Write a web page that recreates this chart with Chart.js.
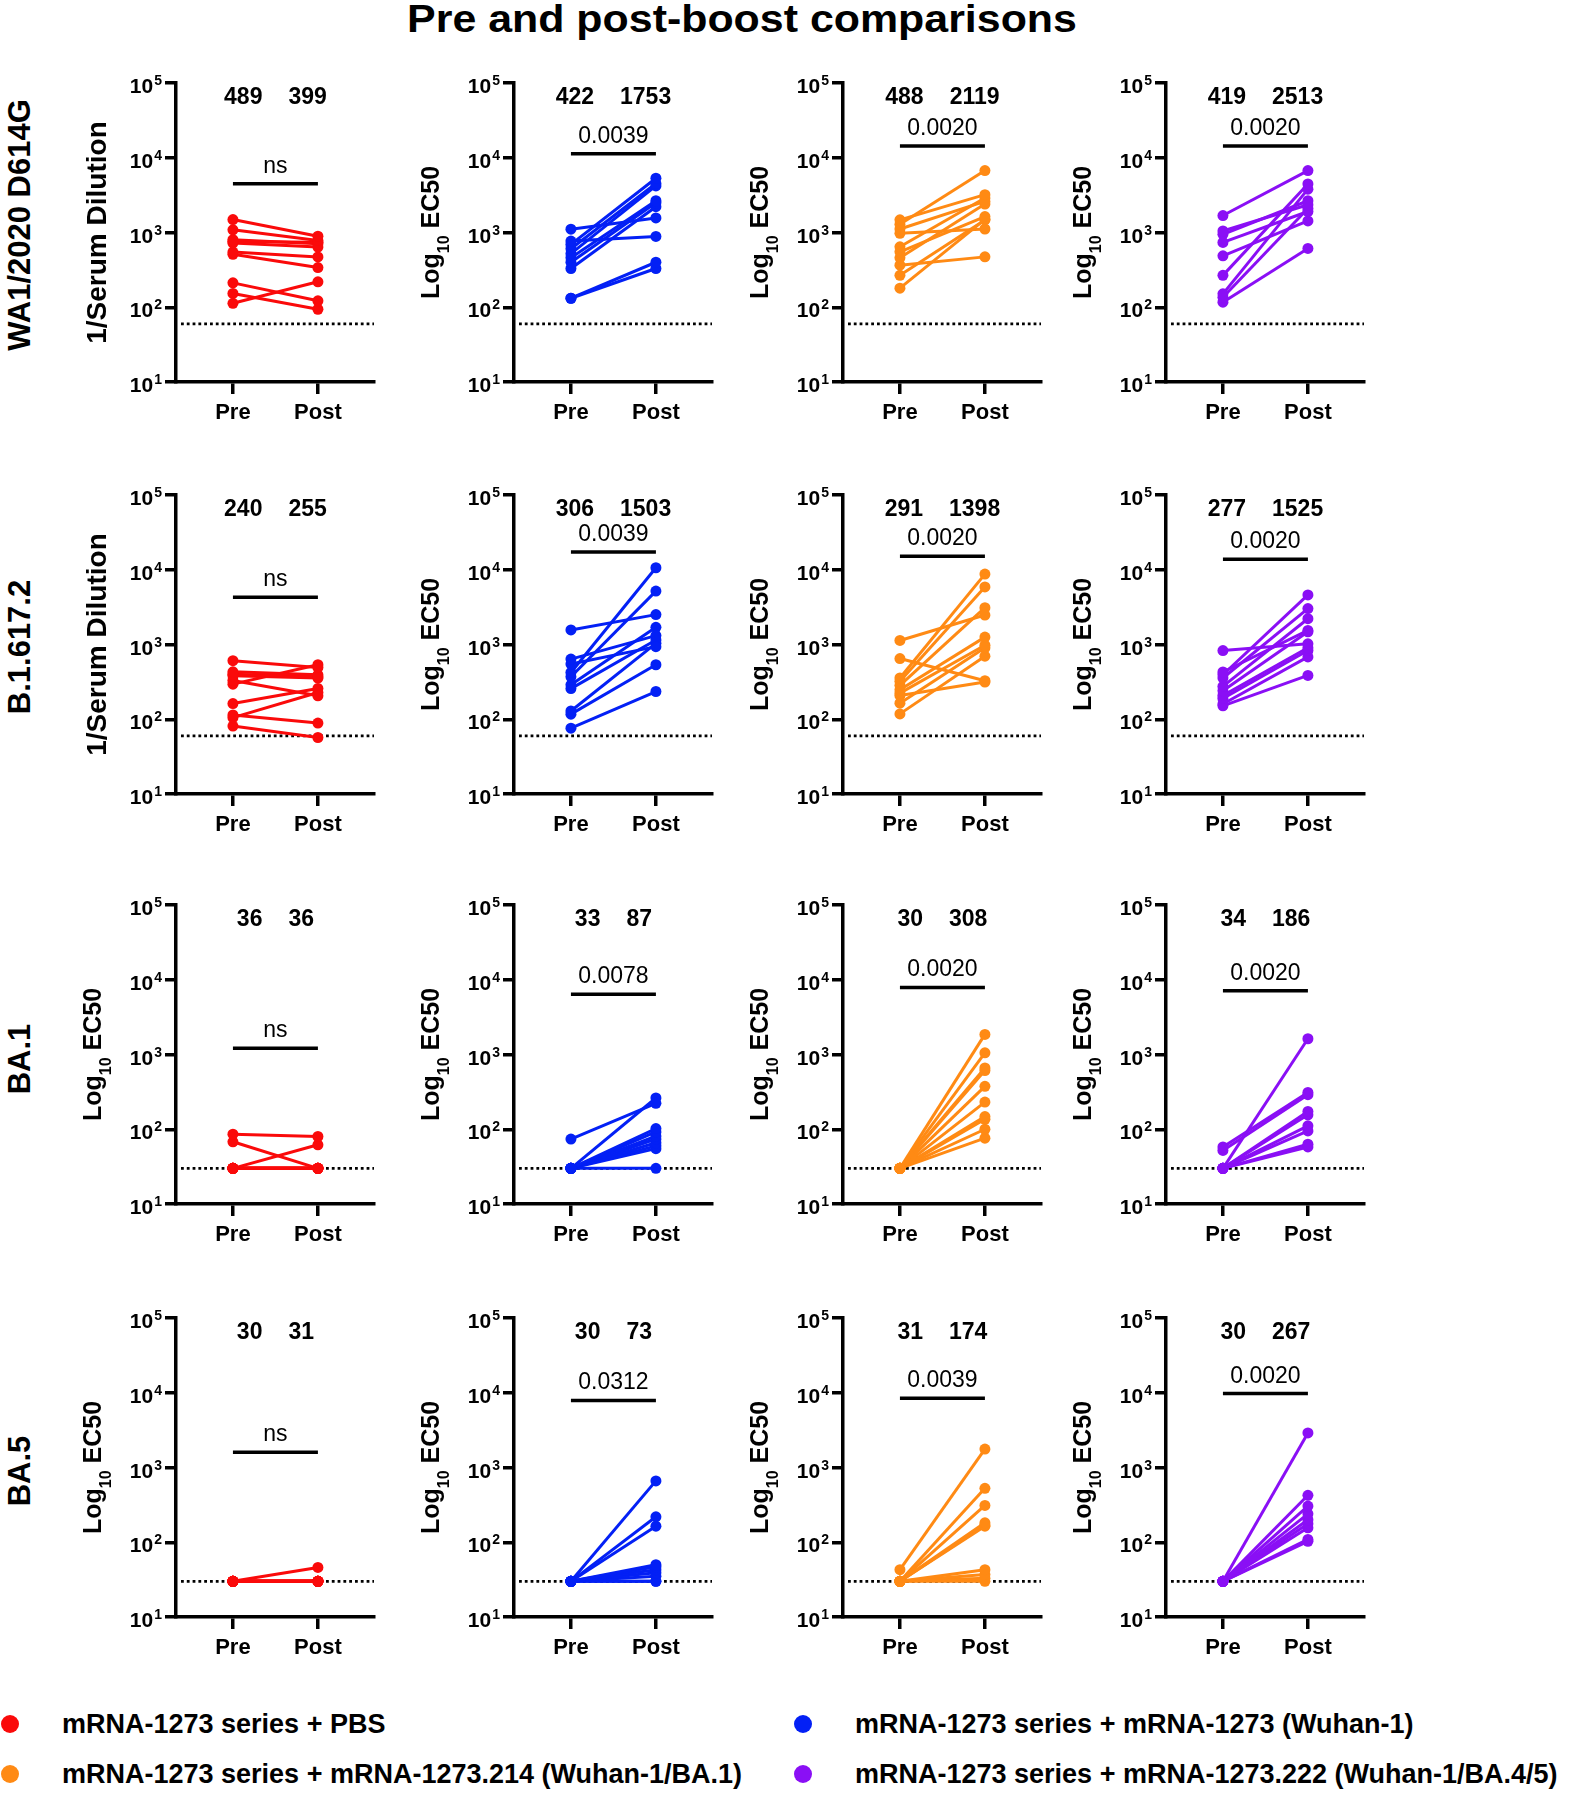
<!DOCTYPE html>
<html>
<head>
<meta charset="utf-8">
<script src="https://cdn.jsdelivr.net/npm/chart.js@4.4.1/dist/chart.umd.min.js"></script>
<style>
  body { margin: 0; background: #fff; }
  #page { position: relative; width: 1580px; height: 1800px; overflow: hidden; background: #fff;
          font-family: "Liberation Sans", Arial, sans-serif; color: #000; }
  canvas.panel { position: absolute; }
  .title { position: absolute; top: -2px; left: 342px; width: 800px; text-align: center;
           font-weight: bold; font-size: 39px; line-height: 42px; transform: scaleX(1.1); }
  .rowlab { position: absolute; left: 20px; font-weight: bold; font-size: 31px; line-height: 30px;
            white-space: nowrap; transform: translate(-50%, -50%) rotate(-90deg); }
  .dot { position: absolute; width: 18px; height: 18px; border-radius: 50%; }
  .legtxt { position: absolute; font-weight: bold; font-size: 27px; line-height: 30px; white-space: nowrap; }
</style>
</head>
<body>
<div id="page"></div>
<script>
const chartTitle = "Pre and post-boost comparisons";
const rowLabels = ["WA1/2020 D614G", "B.1.617.2", "BA.1", "BA.5"];
const groupLabels = [
  "mRNA-1273 series + PBS",
  "mRNA-1273 series + mRNA-1273 (Wuhan-1)",
  "mRNA-1273 series + mRNA-1273.214 (Wuhan-1/BA.1)",
  "mRNA-1273 series + mRNA-1273.222 (Wuhan-1/BA.4/5)"
];
const groupColors = ["#fa0a0a", "#0320f5", "#ff8a14", "#8a0ff5"];
const xLabels = ["Pre", "Post"];
const yTickValues = [10, 100, 1000, 10000, 100000];
const lodValues = [60, 60, 30, 30];

// per row: [PBS, mRNA-1273, mRNA-1273.214, mRNA-1273.222]
const wa1Pre = [
  [1490, 1085, 800, 760, 721, 548, 511, 212, 153, 113],
  [1107, 767, 693, 607, 521, 461, 400, 330, 132, 132],
  [1476, 1288, 1114, 975, 644, 552, 459, 365, 267, 180],
  [1687, 1047, 944, 736, 487, 267, 151, 136, 117]
];
const wa1Post = [
  [893, 783, 707, 740, 639, 471, 340, 122, 94, 219],
  [1566, 885, 5320, 4520, 4200, 2660, 2500, 2215, 400, 330],
  [3210, 6740, 2605, 1114, 2890, 1633, 2400, 472, 1475, 1500],
  [6740, 2350, 2660, 1910, 1430, 4460, 3800, 2100, 612]
];
const deltaPre = [
  [607, 431, 400, 382, 330, 295, 162, 114, 105, 81],
  [1567, 638, 547, 423, 370, 289, 257, 129, 117, 76],
  [1133, 649, 357, 322, 284, 248, 224, 208, 164, 118],
  [830, 429, 394, 356, 275, 240, 208, 190, 160, 151]
];
const deltaPost = [
  [494, 393, 370, 355, 206, 536, 258, 89, 228, 57],
  [2510, 1315, 936, 10640, 5180, 1700, 1150, 1037, 536, 235],
  [2480, 328, 8740, 5900, 3110, 1256, 979, 315, 902, 697],
  [1020, 1541, 4610, 3020, 2213, 1480, 903, 830, 682, 386]
];
const ba1Pre = [
  [86, 68, 30, 30, 30, 30, 30, 30, 30, 30],
  [74, 30, 30, 30, 30, 30, 30, 30, 30, 30],
  [30, 30, 30, 30, 30, 30, 30, 30, 30, 30],
  [58, 52, 30, 30, 30, 30, 30, 30, 30]
];
const ba1Post = [
  [80, 30, 62, 30, 30, 30, 30, 30, 30, 30],
  [222, 262, 102, 92, 81, 74, 66, 60, 55, 30],
  [1857, 1052, 662, 610, 375, 231, 148, 136, 100, 76],
  [311, 290, 1625, 173, 156, 111, 95, 63, 58]
];
const ba5Pre = [
  [30, 30, 30, 30, 30, 30, 30, 30, 30, 30],
  [30, 30, 30, 30, 30, 30, 30, 30, 30, 30],
  [43, 30, 30, 30, 30, 30, 30, 30, 30, 30],
  [30, 30, 30, 30, 30, 30, 30, 30, 30]
];
const ba5Post = [
  [46, 30, 30, 30, 30, 30, 30, 30, 30, 30],
  [662, 219, 164, 50, 47, 43, 39, 35, 30, 30],
  [1765, 527, 311, 182, 170, 164, 43, 37, 33, 30],
  [2900, 425, 305, 240, 200, 177, 156, 109, 103]
];

// geometric mean titres printed above each panel
const wa1GM = [[489, 399], [422, 1753], [488, 2119], [419, 2513]];
const deltaGM = [[240, 255], [306, 1503], [291, 1398], [277, 1525]];
const ba1GM = [[36, 36], [33, 87], [30, 308], [34, 186]];
const ba5GM = [[30, 31], [30, 73], [31, 174], [30, 267]];

// significance labels and the level of their bar (in titre units)
const wa1P = ["ns", "0.0039", "0.0020", "0.0020"];
const deltaP = ["ns", "0.0039", "0.0020", "0.0020"];
const ba1P = ["ns", "0.0078", "0.0020", "0.0020"];
const ba5P = ["ns", "0.0312", "0.0039", "0.0020"];
const wa1Bar = [4500, 11300, 14400, 14400];
const deltaBar = [4300, 17300, 15200, 13800];
const ba1Bar = [1210, 6400, 7900, 7100];
const ba5Bar = [1600, 7900, 8450, 9750];

const preRows = [wa1Pre, deltaPre, ba1Pre, ba5Pre];
const postRows = [wa1Post, deltaPost, ba1Post, ba5Post];
const gmRows = [wa1GM, deltaGM, ba1GM, ba5GM];
const pRows = [wa1P, deltaP, ba1P, ba5P];
const barRows = [wa1Bar, deltaBar, ba1Bar, ba5Bar];

const family = '"Liberation Sans", Arial, sans-serif';
const page = document.getElementById("page");

// layout (px)
const axisX = [176, 514, 843, 1166];
const rowTop = [83, 495, 905, 1318];
const rowMid = [225, 647, 1059, 1471];
const PAD_L = 140, PAD_T = 40, AREA_W = 198, AREA_H = 299, PAD_R = 20, PAD_B = 60;

function decor(r, c) {
  return {
    id: "decor",
    beforeDatasetsDraw(chart) {
      const { ctx, chartArea: a, scales: { y } } = chart;
      const py = y.getPixelForValue(lodValues[r]);
      ctx.save();
      ctx.strokeStyle = "#000";
      ctx.lineWidth = 2.8;
      ctx.setLineDash([2.8, 3]);
      ctx.beginPath();
      ctx.moveTo(a.left + 5, py);
      ctx.lineTo(a.right, py);
      ctx.stroke();
      ctx.restore();
    },
    afterDraw(chart) {
      const { ctx, chartArea: a, scales: { x, y } } = chart;
      ctx.save();
      ctx.fillStyle = "#000";
      ctx.textBaseline = "alphabetic";

      // 10^n tick labels
      yTickValues.forEach(v => {
        const py = y.getPixelForValue(v);
        const e = String(Math.round(Math.log10(v)));
        ctx.textAlign = "right";
        ctx.font = `bold 14px ${family}`;
        const sw = ctx.measureText(e).width;
        ctx.fillText(e, a.left - 14, py + 2);
        ctx.font = `bold 21px ${family}`;
        ctx.fillText("10", a.left - 15 - sw, py + 10);
      });

      // y axis title
      const serum = c === 0 && r < 2;
      const parts = serum
        ? [["1/Serum Dilution", 28, 0]]
        : [["Log", 25, 0], ["10", 16, 10], [" EC50", 25, 0]];
      ctx.save();
      ctx.translate(a.left - (serum ? 80 : 84), (a.top + a.bottom) / 2);
      ctx.rotate(-Math.PI / 2);
      ctx.textAlign = "left";
      const base = 0.358 * parts[0][1];
      let tot = 0;
      parts.forEach(p => { ctx.font = `bold ${p[1]}px ${family}`; tot += ctx.measureText(p[0]).width; });
      let xx = -tot / 2;
      parts.forEach(p => {
        ctx.font = `bold ${p[1]}px ${family}`;
        ctx.fillText(p[0], xx, base + p[2]);
        xx += ctx.measureText(p[0]).width;
      });
      ctx.restore();

      // geometric means
      const x0 = x.getPixelForValue(0), x1 = x.getPixelForValue(1), cx = (x0 + x1) / 2;
      const [g0, g1] = gmRows[r][c].map(String);
      ctx.font = `bold 23px ${family}`;
      ctx.textAlign = "left";
      const w0 = ctx.measureText(g0).width, w1 = ctx.measureText(g1).width, gap = 26;
      const start = cx - (w0 + gap + w1) / 2;
      const gy = y.getPixelForValue(yTickValues[4]) + 21;
      ctx.fillText(g0, start, gy);
      ctx.fillText(g1, start + w0 + gap, gy);

      // significance bar
      const by = y.getPixelForValue(barRows[r][c]);
      ctx.strokeStyle = "#000";
      ctx.lineWidth = 3.5;
      ctx.beginPath();
      ctx.moveTo(x0, by);
      ctx.lineTo(x1, by);
      ctx.stroke();
      ctx.font = `23px ${family}`;
      ctx.textAlign = "center";
      ctx.fillText(pRows[r][c], cx, by - 11);
      ctx.restore();
    }
  };
}

function makePanel(r, c) {
  const cv = document.createElement("canvas");
  cv.className = "panel";
  cv.width = PAD_L + AREA_W + PAD_R;
  cv.height = PAD_T + AREA_H + PAD_B;
  cv.style.left = (axisX[c] - PAD_L) + "px";
  cv.style.top = (rowTop[r] - PAD_T) + "px";
  page.appendChild(cv);

  const pre = preRows[r][c], post = postRows[r][c], color = groupColors[c];
  const datasets = pre.map((v, i) => ({
    data: [{ x: 0, y: v }, { x: 1, y: post[i] }],
    borderColor: color,
    backgroundColor: color,
    borderWidth: 3,
    pointRadius: 5.5,
    pointHoverRadius: 5.5,
    pointBorderWidth: 0
  }));

  const axisLine = { drawOnChartArea: false, drawTicks: true, lineWidth: 3.5, color: "#000" };

  new Chart(cv, {
    type: "line",
    data: { datasets },
    options: {
      responsive: false,
      animation: false,
      events: [],
      layout: { padding: { top: PAD_T, right: PAD_R, left: 0, bottom: 0 } },
      plugins: { legend: { display: false }, tooltip: { enabled: false } },
      scales: {
        x: {
          type: "linear",
          bounds: "data",
          min: -0.67,
          max: 1.66,
          afterBuildTicks: s => { s.ticks = [{ value: 0 }, { value: 1 }]; },
          afterFit: s => { s.height = PAD_B; },
          grid: { ...axisLine, tickLength: 12 },
          border: { display: true, width: 3.5, color: "#000" },
          ticks: {
            callback: v => xLabels[v],
            autoSkip: false,
            maxRotation: 0,
            padding: 6,
            color: "#000",
            font: { family, size: 22, weight: "bold" }
          }
        },
        y: {
          type: "logarithmic",
          min: yTickValues[0],
          max: yTickValues[yTickValues.length - 1],
          afterBuildTicks: s => { s.ticks = yTickValues.map(v => ({ value: v })); },
          afterFit: s => { s.width = PAD_L; },
          grid: { ...axisLine, tickLength: 11 },
          border: { display: true, width: 3.5, color: "#000" },
          ticks: { display: false }
        }
      }
    },
    plugins: [decor(r, c)]
  });
}

// page title
const t = document.createElement("div");
t.className = "title";
t.textContent = chartTitle;
page.appendChild(t);

// row labels
rowLabels.forEach((txt, r) => {
  const d = document.createElement("div");
  d.className = "rowlab";
  d.style.top = rowMid[r] + "px";
  d.textContent = txt;
  page.appendChild(d);
});

for (let r = 0; r < 4; r++) {
  for (let c = 0; c < 4; c++) makePanel(r, c);
}

// legend
const legPos = [[10, 1724], [803, 1724], [10, 1774], [803, 1774]];
groupLabels.forEach((txt, i) => {
  const [lx, ly] = legPos[i];
  const dot = document.createElement("div");
  dot.className = "dot";
  dot.style.background = groupColors[i];
  dot.style.left = (lx - 9) + "px";
  dot.style.top = (ly - 9) + "px";
  page.appendChild(dot);
  const lab = document.createElement("div");
  lab.className = "legtxt";
  lab.style.left = (lx + 52) + "px";
  lab.style.top = (ly - 15) + "px";
  lab.textContent = txt;
  page.appendChild(lab);
});
</script>
</body>
</html>
